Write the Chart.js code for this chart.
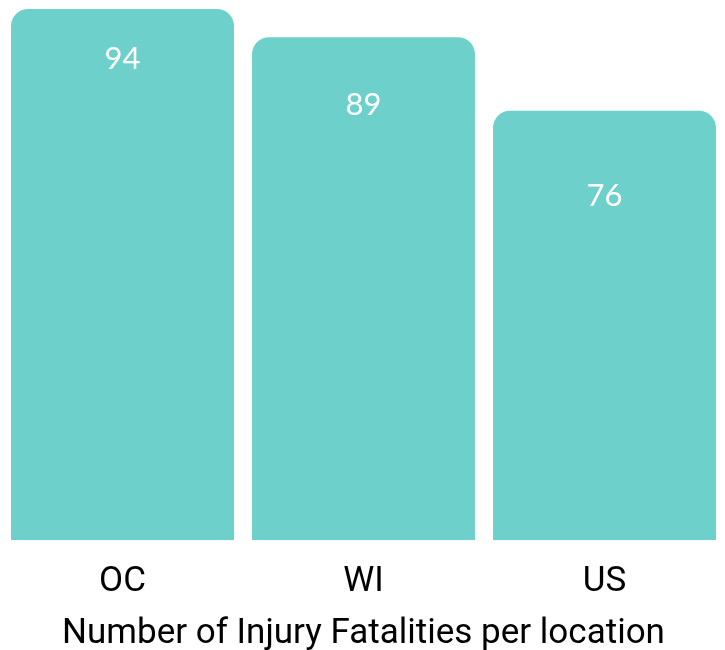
<!DOCTYPE html>
<html><head><meta charset="utf-8">
<script src="https://cdn.jsdelivr.net/npm/chart.js@4"></script>
<style>html,body{margin:0;padding:0;background:#fff}#wrap{width:725px;height:650px}</style>
</head><body><div id="wrap"><canvas id="c"></canvas></div>
<script>
const categories = ["OC", "WI", "US"];
const fatalities = [94, 89, 76];
const axisTitle = "Number of Injury Fatalities per location";

const valueLabels = {
  id: 'valueLabels',
  afterDatasetsDraw(chart, args, opts) {
    const ctx = chart.ctx;
    const meta = chart.getDatasetMeta(0);
    ctx.save();
    ctx.fillStyle = '#ffffff';
    ctx.font = '31px "Lato", sans-serif';
    ctx.textAlign = 'center';
    ctx.textBaseline = 'middle';
    meta.data.forEach((bar, i) => {
      ctx.fillText(String(fatalities[i]), bar.x, bar.y + opts.offsets[i]);
    });
    ctx.restore();
  }
};

new Chart(document.getElementById('c'), {
  type: 'bar',
  data: {
    labels: categories,
    datasets: [{
      data: fatalities,
      backgroundColor: '#6dd0ca',
      borderRadius: {topLeft: 17, topRight: 17, bottomLeft: 0, bottomRight: 0},
      borderSkipped: false,
      categoryPercentage: 1,
      barPercentage: 0.925
    }]
  },
  options: {
    responsive: true,
    maintainAspectRatio: false,
    animation: false,
    layout: {padding: {top: 9, left: 2, right: 0, bottom: 6}},
    plugins: {
      legend: {display: false},
      tooltip: {enabled: false},
      valueLabels: {offsets: [50, 68, 85]}
    },
    scales: {
      x: {
        grid: {display: false, drawTicks: false},
        border: {display: false},
        ticks: {color: '#000', font: {family: 'Roboto, sans-serif', size: 35, lineHeight: 0.9}, padding: 26},
        title: {display: true, text: axisTitle, color: '#000', font: {family: 'Roboto, sans-serif', size: 35, lineHeight: 0.58}, padding: {top: 0, bottom: 0}}
      },
      y: {display: false, min: 0, max: 94}
    }
  },
  plugins: [valueLabels]
});
</script></body></html>
